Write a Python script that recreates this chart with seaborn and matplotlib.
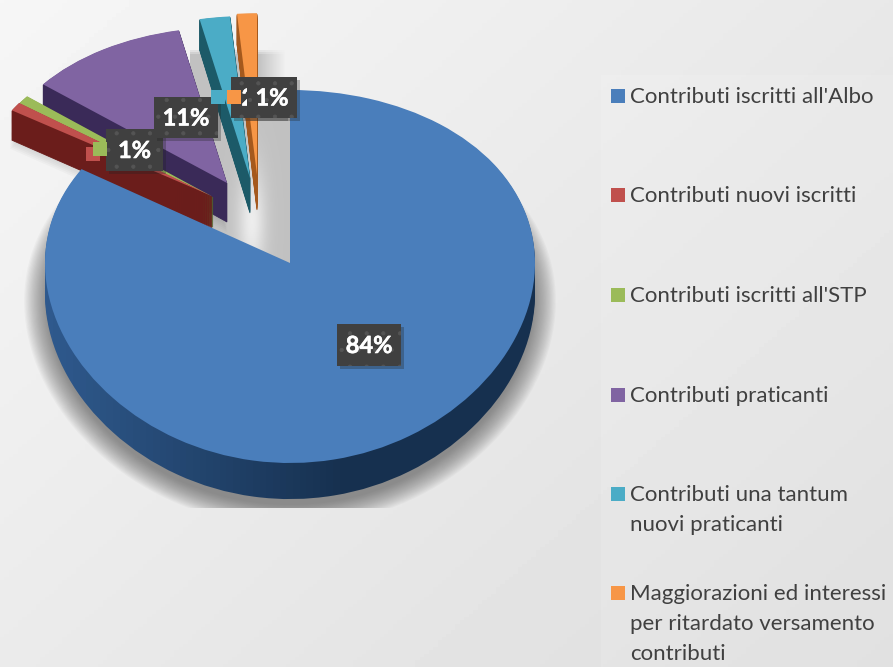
import numpy as np
import matplotlib
matplotlib.use("Agg")
import matplotlib.pyplot as plt
import matplotlib.patheffects as pe
from matplotlib.patches import Rectangle
from matplotlib.transforms import Bbox
import seaborn as sns

# Data
categories = ["Contributi iscritti all'Albo", "Contributi nuovi iscritti",
              "Contributi iscritti all'STP", "Contributi praticanti",
              "Contributi una tantum\nnuovi praticanti",
              "Maggiorazioni ed interessi\nper ritardato versamento\ncontributi"]
shares = [83.8, 0.9, 0.9, 11.1, 2.0, 1.3]
label_texts = ["84%", "1%", "1%", "11%", "2%", "1%"]

top_colors = ["#4a7ebb", "#c0504d", "#9bbb59", "#8064a2", "#4bacc6", "#f79646"]
wall_colors = ["#1a3553", "#6b1d1b", "#55692c", "#3a2a58", "#1c5a68", "#a5591d"]

# Layout, in pixels of the picture
W, H = 893, 667
APEX_X, APEX_Y = 290, 263
RX = 245
TOP_R, BOTTOM_R = 173, 200
# where each slice's point has been pulled to, how thick and how big it is
slice_apex = [(290, 263), (212, 196), (213, 197), (227, 183), (250, 178), (257, 175)]
slice_depth = [31, 32, 30, 39, 35, 35]
slice_radius = [1, 0.96, 0.965, 0.955, 1, 1]
paint_order = [5, 4, 3, 2, 1, 0]

sns.set_theme(style="white")
plt.rcParams["font.family"] = ["Lato", "DejaVu Sans"]
plt.rcParams["hatch.linewidth"] = 0.6

fig = plt.figure(figsize=(W / 100, H / 100), dpi=100)

# background
bg = fig.add_axes([0, 0, 1, 1], zorder=0)
yy, xx = np.mgrid[0:1:200j, 0:1:200j]
grad = 0.965 - 0.10 * (0.55 * xx + 0.45 * yy)
bg.imshow(grad, cmap="gray", vmin=0, vmax=1, extent=(0, W, H, 0), aspect="auto")
bg.add_patch(Rectangle((601, 75), 292, 592, color="white", alpha=0.12, lw=0))

# grey shadow seen through the gap left by the pulled slices
sy, sx = np.mgrid[50:270:110j, 190:290:100j]
light = np.exp(-((sx - 252) / 14) ** 2 - ((sy - 222) / 55) ** 2)
grey = 0.76 + 0.17 * light
alpha = np.clip((sy - 48) / 6, 0, 1) * (1 - np.clip((sx - 258) / 28, 0, 1) * np.clip((92 - sy) / 6, 0, 1))
shadow_img = np.dstack([grey, grey, grey, alpha])
bg.imshow(shadow_img, extent=(190, 290, 270, 50), aspect="auto", zorder=2)
bg.set_xlim(0, W)
bg.set_ylim(H, 0)
bg.axis("off")

# perspective: the far half of the pie is a bit flatter than the near half
k = (BOTTOM_R - TOP_R) / (BOTTOM_R + TOP_R)
A = TOP_R * (1 + k)


def to_px(y):
    return A * y / (1 + k * y)


def from_px(g):
    return g / (A - k * g)


def data_y(py):
    return from_px(APEX_Y - py)


def data_x(px):
    return (px - APEX_X) / RX


ax = fig.add_axes([0, 0, 1, 1], zorder=1)
ax.patch.set_alpha(0)


def draw_layer(colors, drop, idx, radius=1.0, alpha=1.0, clip=None, edge=False):
    wedges, _ = ax.pie(shares, colors=colors, startangle=90, counterclock=False, radius=radius,
                       wedgeprops=dict(linewidth=0, alpha=alpha))
    for i, w in enumerate(wedges):
        if i == idx:
            px, py = slice_apex[i]
            w.set_center((data_x(px), data_y(py + drop)))
            w.set_zorder(2)
            if edge:
                w.set_edgecolor(colors[i])
                w.set_linewidth(0.6)
            if clip is not None:
                # pie turns clipping off on its wedges
                w.set_clip_on(True)
                w.set_clip_box(clip)
        else:
            w.remove()


# soft shadow under the pie, cut flat at the bottom as in the slide
flat_cut = Bbox([[0, H - 508], [W, H]])
for r in np.linspace(1.085, 0.99, 20):
    draw_layer(["#4a4a4a"] * 6, 38, 0, radius=r, alpha=0.04, clip=flat_cut)
for i in (1, 3):
    for drop in range(slice_depth[i] + 2, slice_depth[i] + 12, 2):
        draw_layer(["#555555"] * 6, drop, i, radius=slice_radius[i] * 1.01, alpha=0.035)

# slices, back to front, wall first and then the top
for i in paint_order:
    if i == 0:
        # the big wall gets lighter towards the left
        left_c = np.array(matplotlib.colors.to_rgb("#2f5a8e"))
        right_c = np.array(matplotlib.colors.to_rgb("#16304f"))
        edges = np.linspace(40, 540, 76).astype(int)
        for x0, x1 in zip(edges[:-1], edges[1:]):
            t = min((x0 - 40) / 300, 1)
            c = tuple(left_c + (right_c - left_c) * t)
            strip = Bbox([[x0, 0], [x1, H]])
            for drop in range(slice_depth[0], 0, -3):
                draw_layer([c] * 6, drop, 0, clip=strip)
    else:
        for drop in range(slice_depth[i], 0, -1):
            draw_layer(wall_colors, drop, i, radius=slice_radius[i], edge=True)
    draw_layer(top_colors, 0, i, radius=slice_radius[i])

ax.set_aspect("auto")
ax.set_yscale("function", functions=(to_px, from_px))
ax.set_xlim(data_x(0), data_x(W))
ax.set_ylim(data_y(H), data_y(0))
ax.axis("off")

# labels and legend in pixel coordinates
ov = fig.add_axes([0, 0, 1, 1], zorder=2)
ov.set_xlim(0, W)
ov.set_ylim(H, 0)
ov.axis("off")
ov.patch.set_alpha(0)


def label_box(x0, y0, x1, y1, text, z=3):
    ov.add_patch(Rectangle((x0 + 3, y0 + 3), x1 - x0, y1 - y0, fc="#222222", alpha=0.3, lw=0, zorder=z))
    ov.add_patch(Rectangle((x0, y0), x1 - x0, y1 - y0, fc="#404040", ec="#545454", lw=0, hatch=".", zorder=z))
    ov.text((x0 + x1) / 2, (y0 + y1) / 2 + 0.5, text, color="white", fontsize=17, fontweight="bold",
            ha="center", va="center", zorder=z + 0.5,
            path_effects=[pe.withStroke(linewidth=0.4, foreground="white")])


def swatch(x, y, c, z=3):
    ov.add_patch(Rectangle((x, y), 14, 14, fc=c, lw=0, zorder=z))


label_box(337, 324, 401, 366, label_texts[0])
swatch(86, 147, top_colors[1], z=3)
label_box(106, 129, 163, 171, label_texts[1], z=3)
swatch(93, 142, top_colors[2], z=3.8)
label_box(154, 97, 218, 138, label_texts[3], z=4)
swatch(211, 90, top_colors[4], z=4.8)
label_box(231, 77, 285, 118, label_texts[4], z=4.2)
label_box(247, 77, 297, 118, label_texts[5], z=5)
swatch(227, 90, top_colors[5], z=5.8)

legend_y = [96, 195, 295, 395, 494, 593]
for y, name, c in zip(legend_y, categories, top_colors):
    ov.add_patch(Rectangle((611, y - 7), 14, 14, fc=c, lw=0))
    ov.text(630, y - 9, name, color="#404040", fontsize=16, va="top", ha="left", linespacing=1.63)

fig.savefig("out.png", dpi=100)
